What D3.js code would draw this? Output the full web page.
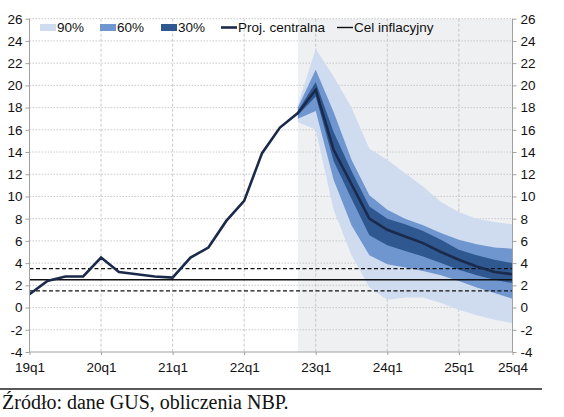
<!DOCTYPE html>
<html><head><meta charset="utf-8">
<script src="https://cdn.jsdelivr.net/npm/d3@7"></script>
<style>
body{margin:0;background:#fff;}
svg{display:block;}
</style></head>
<body>
<svg id="c" width="564" height="417"></svg>
<script>
const quarters = ["19q1","19q2","19q3","19q4","20q1","20q2","20q3","20q4","21q1","21q2","21q3","21q4",
  "22q1","22q2","22q3","22q4","23q1","23q2","23q3","23q4","24q1","24q2","24q3","24q4","25q1","25q2","25q3","25q4"];
const tickLabels = ["19q1","20q1","21q1","22q1","23q1","24q1","25q1","25q4"];
const yTicks = [-4,-2,0,2,4,6,8,10,12,14,16,18,20,22,24,26];
const history = [1.2,2.4,2.8,2.8,4.5,3.2,3.0,2.8,2.7,4.5,5.4,7.8,9.6,13.9,16.2,17.5];
const projQuarters = quarters.slice(15);
const central = [17.5,19.6,14.2,11.1,8.0,7.0,6.4,5.8,5.0,4.3,3.7,3.2,3.0];
const lo90 = [16.7,16.0,8.8,4.7,1.8,0.7,0.9,0.9,0.4,-0.2,-0.7,-1.1,-1.4];
const hi90 = [18.2,23.3,20.8,18.0,14.3,13.3,12.1,10.9,9.5,8.6,8.0,7.7,7.5];
const lo60 = [17.0,17.7,11.5,7.4,4.7,3.9,3.6,3.3,2.9,2.4,1.8,1.3,0.8];
const hi60 = [18.0,21.4,17.6,13.3,10.1,8.8,8.0,7.4,6.7,6.1,5.7,5.4,5.3];
const lo30 = [17.3,19.0,13.2,9.8,6.5,5.6,5.1,4.6,4.0,3.4,2.9,2.5,2.2];
const hi30 = [17.7,20.3,15.8,12.3,9.1,8.0,7.5,6.9,6.1,5.2,4.7,4.3,4.0];
const target = 2.5, targetLo = 1.5, targetHi = 3.5;
const legendItems = ["90%","60%","30%","Proj. centralna","Cel inflacyjny"];
const sourceText = "Źródło: dane GUS, obliczenia NBP.";

const colors = {c90:"#cfdcf0", c60:"#6f96cf", c30:"#2f5891", line:"#1b2a4a", proj:"#eff0f2", grid:"#bdbdbd", axis:"#a0a0a0"};

const svg = d3.select("#c");
const x = d3.scalePoint().domain(quarters).range([29.5, 512.5]);
const y = d3.scaleLinear().domain([-4, 26]).range([352, 18.7]);
const font = "'Liberation Sans', Arial, sans-serif";

// projection background
svg.append("rect").attr("x", x("22q4")).attr("y", y(26))
  .attr("width", x("25q4") - x("22q4")).attr("height", y(-4) - y(26)).attr("fill", colors.proj);

// horizontal grid
svg.append("g").selectAll("line").data(yTicks.filter(d => d > -4)).join("line")
  .attr("x1", x.range()[0]).attr("x2", x.range()[1])
  .attr("y1", d => y(d)).attr("y2", d => y(d))
  .attr("stroke", colors.grid).attr("stroke-width", 0.8).attr("stroke-dasharray", "1.5,1.5");
// vertical grid
svg.append("g").selectAll("line").data(tickLabels.slice(1, -1)).join("line")
  .attr("x1", d => x(d)).attr("x2", d => x(d))
  .attr("y1", y(26)).attr("y2", y(-4))
  .attr("stroke", colors.grid).attr("stroke-width", 0.8).attr("stroke-dasharray", "3,2");

// fan bands
const pidx = projQuarters.map((q, i) => i);
function band(lo, hi, col) {
  const area = d3.area().x(i => x(projQuarters[i])).y0(i => y(lo[i])).y1(i => y(hi[i]));
  svg.append("path").datum(pidx).attr("d", area).attr("fill", col);
}
band(lo90, hi90, colors.c90);
band(lo60, hi60, colors.c60);
band(lo30, hi30, colors.c30);

// target lines
const tLine = (v, dash, w) => svg.append("line")
  .attr("x1", x.range()[0]).attr("x2", x.range()[1]).attr("y1", y(v)).attr("y2", y(v))
  .attr("stroke", "#111").attr("stroke-width", w).attr("stroke-dasharray", dash);
tLine(targetHi, "4,2.5", 1.2);
tLine(targetLo, "4,2.5", 1.2);
tLine(target, null, 1.4);

// central line (history + projection)
const line = d3.line().x(d => x(d.q)).y(d => y(d.v));
const hist = history.map((v, i) => ({q: quarters[i], v}));
const proj = central.map((v, i) => ({q: projQuarters[i], v}));
svg.append("path").datum(hist.concat(proj.slice(1))).attr("d", line)
  .attr("fill", "none").attr("stroke", colors.line).attr("stroke-width", 2.6).attr("stroke-linejoin", "miter");

// axes
const fmt = d => String(d);
const yAxisL = d3.axisLeft(y).tickValues(yTicks).tickFormat(fmt).tickSize(4).tickPadding(3);
const yAxisR = d3.axisRight(y).tickValues(yTicks).tickFormat(fmt).tickSize(4).tickPadding(4);
const xAxis = d3.axisBottom(x).tickValues(tickLabels).tickSize(3).tickPadding(7);
function styleAxis(g) {
  g.selectAll("path,line").attr("stroke", colors.axis);
  g.selectAll("text").attr("fill", "#111").style("font-family", font).style("font-size", "13.5px");
}
svg.append("g").attr("transform", `translate(${x.range()[0]},0)`).call(yAxisL).call(styleAxis)
  .call(g => g.select(".domain").attr("d", `M0,${y(26)}V${y(-4)}`));
svg.append("g").attr("transform", `translate(${x.range()[1]},0)`).call(yAxisR).call(styleAxis)
  .call(g => g.select(".domain").attr("d", `M0,${y(26)}V${y(-4)}`));
svg.append("g").attr("transform", `translate(0,${y(-4)})`).call(xAxis).call(styleAxis)
  .call(g => g.select(".domain").attr("d", `M${x.range()[0]},0H${x.range()[1]}`));

// legend
const lg = svg.append("g").style("font-family", font).style("font-size", "13.5px");
const legX = [40, 100, 161, 221, 337];
const legSw = [colors.c90, colors.c60, colors.c30];
legendItems.forEach((t, i) => {
  if (i < 3) {
    lg.append("rect").attr("x", legX[i]).attr("y", 24).attr("width", 16).attr("height", 7).attr("fill", legSw[i]);
    lg.append("text").attr("x", legX[i] + 17).attr("y", 32).text(t).attr("fill", "#111");
  } else {
    lg.append("line").attr("x1", legX[i]).attr("x2", legX[i] + 16).attr("y1", 27.5).attr("y2", 27.5)
      .attr("stroke", i === 3 ? colors.line : "#111").attr("stroke-width", i === 3 ? 2.6 : 1.4);
    lg.append("text").attr("x", legX[i] + 17).attr("y", 32).text(t).attr("fill", "#111");
  }
});

// footer
svg.append("line").attr("x1", 0).attr("x2", 542).attr("y1", 389).attr("y2", 389)
  .attr("stroke", "#222").attr("stroke-width", 1.6);
svg.append("text").attr("x", 2).attr("y", 409).text(sourceText)
  .style("font-family", "'Liberation Serif', 'Times New Roman', serif").style("font-size", "20px").attr("fill", "#111");
</script>
</body></html>
